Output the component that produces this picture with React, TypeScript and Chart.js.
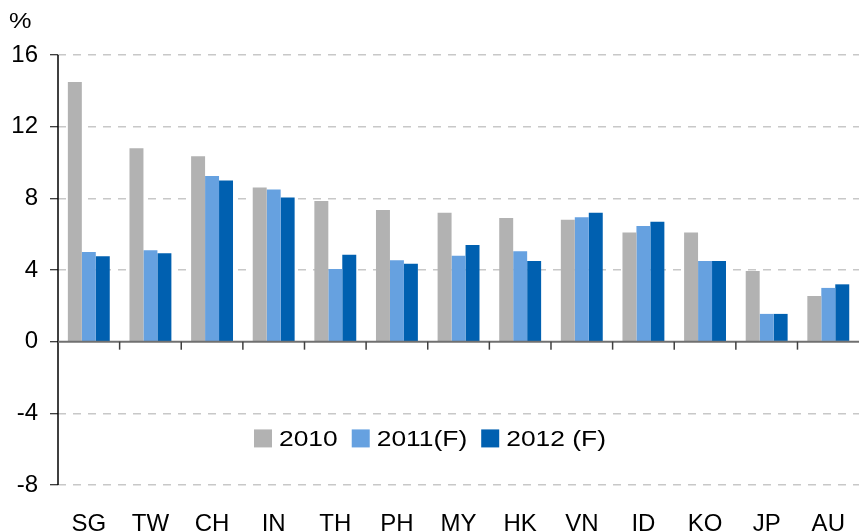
import React, { useEffect, useRef } from "react";
import { Chart, registerables } from "chart.js";

Chart.register(...registerables);

const categories = ["SG", "TW", "CH", "IN", "TH", "PH", "MY", "HK", "VN", "ID", "KO", "JP", "AU"];
const series2010 = [14.5, 10.8, 10.35, 8.6, 7.85, 7.35, 7.2, 6.9, 6.8, 6.1, 6.1, 3.95, 2.55];
const series2011 = [5.0, 5.1, 9.25, 8.5, 4.05, 4.55, 4.8, 5.05, 6.95, 6.45, 4.5, 1.55, 3.0];
const series2012 = [4.77, 4.93, 9.0, 8.05, 4.85, 4.35, 5.4, 4.5, 7.2, 6.7, 4.5, 1.55, 3.2];
const seriesLabels = ["2010", "2011(F)", "2012 (F)"];
const seriesColors = ["#B2B2B2", "#66A1E0", "#0060B0"];
const yTicks = [-8, -4, 0, 4, 8, 12, 16];

const FONT = "'Liberation Sans', Arial, sans-serif";
const STRETCH = 1.2;

const decorPlugin = {
  id: "decor",
  afterDatasetsDraw(chart: any) {
    const ctx = chart.ctx;
    const x = chart.scales.x;
    const y = chart.scales.y;
    const area = chart.chartArea;
    const y0 = y.getPixelForValue(0);
    ctx.save();
    // y axis line (solid)
    ctx.strokeStyle = "#000";
    ctx.lineWidth = 1.5;
    ctx.beginPath();
    ctx.moveTo(area.left, area.top);
    ctx.lineTo(area.left, area.bottom);
    ctx.stroke();
    // zero line
    ctx.strokeStyle = "#707070";
    ctx.lineWidth = 2;
    ctx.beginPath();
    ctx.moveTo(area.left, y0);
    ctx.lineTo(area.right, y0);
    ctx.stroke();
    // category separator ticks
    ctx.strokeStyle = "#404040";
    ctx.lineWidth = 1.5;
    const n = categories.length;
    for (let i = 1; i < n; i++) {
      const bx = (x.getPixelForTick(i - 1) + x.getPixelForTick(i)) / 2;
      ctx.beginPath();
      ctx.moveTo(bx, y0);
      ctx.lineTo(bx, y0 + 8);
      ctx.stroke();
    }
    ctx.restore();
  },
  afterDraw(chart: any) {
    const ctx = chart.ctx;
    const area = chart.chartArea;
    const y = chart.scales.y;
    ctx.save();
    ctx.fillStyle = "#000";
    ctx.textBaseline = "alphabetic";
    ctx.textAlign = "left";
    // unit label
    ctx.font = `22px ${FONT}`;
    ctx.save();
    ctx.translate(9, 28);
    ctx.scale(1.15, 1);
    ctx.fillText("%", 0, 0);
    ctx.restore();
    // legend inside plot
    ctx.font = `22px ${FONT}`;
    let lx = area.left + 196;
    const ly = y.getPixelForValue(-5.4);
    chart.data.datasets.forEach((ds: any) => {
      ctx.fillStyle = ds.backgroundColor;
      ctx.fillRect(lx, ly - 9, 18, 18);
      lx += 25;
      ctx.fillStyle = "#000";
      ctx.save();
      ctx.translate(lx, ly + 7.5);
      ctx.scale(STRETCH, 1);
      ctx.fillText(ds.label, 0, 0);
      ctx.restore();
      lx += ctx.measureText(ds.label).width * STRETCH + 14;
    });
    ctx.restore();
  },
};

export default function App() {
  const canvasRef = useRef<HTMLCanvasElement | null>(null);

  useEffect(() => {
    document.body.style.margin = "0";
    const canvas = canvasRef.current;
    if (!canvas) return;
    const chart = new Chart(canvas, {
      type: "bar",
      data: {
        labels: categories,
        datasets: [series2010, series2011, series2012].map((d, i) => ({
          label: seriesLabels[i],
          data: d,
          backgroundColor: seriesColors[i],
          borderWidth: 0,
          barPercentage: 1,
          categoryPercentage: 0.68,
        })),
      },
      options: {
        animation: false,
        responsive: false,
        devicePixelRatio: 1,
        layout: { padding: { top: 55, right: 1, left: 0, bottom: 0 } },
        plugins: {
          legend: { display: false },
          tooltip: { enabled: false },
        },
        scales: {
          x: {
            grid: { display: false },
            border: { display: false },
            ticks: {
              color: "#000",
              font: { family: FONT, size: 24 },
              padding: 17,
              maxRotation: 0,
            },
            afterFit: (s: any) => {
              s.height = 47;
            },
          },
          y: {
            min: -8,
            max: 16,
            afterBuildTicks: (s: any) => {
              s.ticks = yTicks.map((v) => ({ value: v }));
            },
            ticks: {
              color: "#000",
              font: { family: FONT, size: 24 },
              padding: 12,
            },
            grid: {
              color: (c: any) => (c.tick && c.tick.value === 0 ? "rgba(0,0,0,0)" : "#C8C8C8"),
              lineWidth: 1.5,
              tickBorderDash: [],
              tickColor: "#000",
              tickLength: 8,
              tickWidth: 1,
            },
            border: { display: false, dash: [8, 7] },
            afterFit: (s: any) => {
              s.width = 58;
            },
          },
        },
      },
      plugins: [decorPlugin],
    });
    return () => chart.destroy();
  }, []);

  return (
    <div style={{ width: 859, height: 532, overflow: "hidden", position: "relative" }}>
      <canvas ref={canvasRef} width={862} height={532} style={{ display: "block" }} />
    </div>
  );
}
